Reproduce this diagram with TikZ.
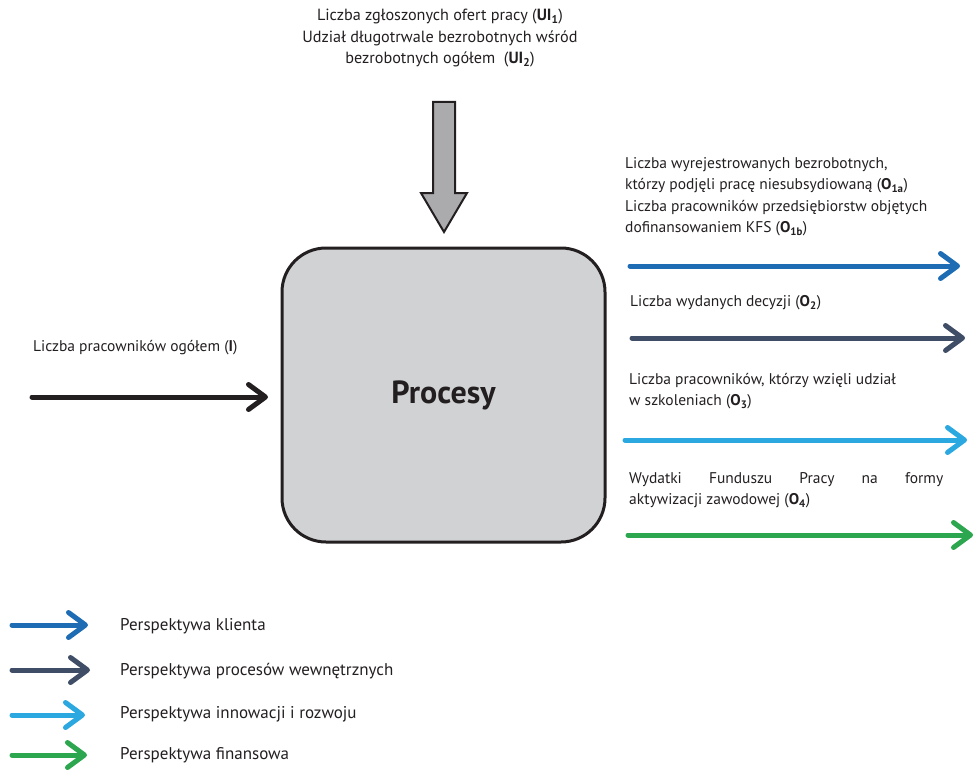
\documentclass[tikz,border=0pt]{standalone}
\usepackage{fontspec}
\setmainfont{PT Sans}
\usetikzlibrary{arrows.meta}
\definecolor{inkdark}{HTML}{231F20}
\definecolor{boxgray}{HTML}{D1D2D4}
\definecolor{arrowgray}{HTML}{ABABAE}
\definecolor{clientblue}{HTML}{1E6DB4}
\definecolor{processslate}{HTML}{3F4D66}
\definecolor{growthblue}{HTML}{2AA8DF}
\definecolor{financegreen}{HTML}{2DA74F}
\newcommand{\bsub}[1]{\textsubscript{\textbf{#1}}}
\begin{document}
\begin{tikzpicture}[x=1pt,y=-1pt,
  lbl/.style={font=\fontsize{15.5}{21.5}\selectfont, text=inkdark, inner sep=0pt, align=left},
  keylbl/.style={font=\fontsize{17}{21}\selectfont, text=inkdark, inner sep=0pt, anchor=west},
  flow/.style={line width=5pt, line cap=round, -{Straight Barb[length=17pt,width=25pt,round]}},
]
\useasboundingbox (0,0) rectangle (976,770);

% central process box
\node[draw=inkdark, line width=3pt, fill=boxgray, rounded corners=44pt,
      minimum width=323pt, minimum height=294pt,
      font=\fontsize{32}{36}\selectfont\bfseries, text=inkdark] (proc) at (443.5,395) {Procesy};

% external influence: block arrow from above
\node[lbl, font=\fontsize{16.2}{21.5}\selectfont, align=center, anchor=center] (ulbl) at (440,38.5)
  {Liczba zgłoszonych ofert pracy (\textbf{UI}\bsub{1})\\
   Udział długotrwale bezrobotnych wśród\\
   bezrobotnych ogółem~ (\textbf{UI}\bsub{2})};
\draw[draw=inkdark, line width=2pt, fill=arrowgray, line join=miter]
  (433,102) -- (455,102) -- (455,193) -- (467,193) -- (444,232) -- (421,193) -- (433,193) -- cycle;

% input
\node[lbl, anchor=west] (ilbl) at (33,348) {Liczba pracowników ogółem (\textbf{I})};
\coordinate (inS) at (32,397);
\coordinate (inE) at (268,397);
\draw[flow, draw=inkdark] (inS) -- (inE);

% outputs
\node[lbl, anchor=west] (o1lbl) at (625,196.5)
  {Liczba wyrejestrowanych bezrobotnych,\\
   którzy podjęli pracę niesubsydiowaną (\textbf{O}\bsub{1a})\\
   Liczba pracowników przedsiębiorstw objętych\\
   dofinansowaniem KFS (\textbf{O}\bsub{1b})};
\coordinate (o1S) at (630,266);
\coordinate (o1E) at (960,266);
\draw[flow, draw=clientblue] (o1S) -- (o1E);

\node[lbl, anchor=west] (o2lbl) at (630,303) {Liczba wydanych decyzji (\textbf{O}\bsub{2})};
\coordinate (o2S) at (632,338);
\coordinate (o2E) at (965,338);
\draw[flow, draw=processslate] (o2S) -- (o2E);

\node[lbl, anchor=west] (o3lbl) at (629,391)
  {Liczba pracowników, którzy wzięli udział\\
   w szkoleniach (\textbf{O}\bsub{3})};
\coordinate (o3S) at (625,440);
\coordinate (o3E) at (967,440);
\draw[flow, draw=growthblue] (o3S) -- (o3E);

\node[lbl, anchor=west] (o4lbl) at (629,490)
  {\makebox[314pt][l]{Wydatki\hfill Funduszu\hfill Pracy\hfill na\hfill formy}\\
   aktywizacji zawodowej (\textbf{O}\bsub{4})};
\coordinate (o4S) at (628,535);
\coordinate (o4E) at (973,535);
\draw[flow, draw=financegreen] (o4S) -- (o4E);

% legend
\coordinate (k1S) at (12,625); \coordinate (k1E) at (88,625);
\coordinate (k2S) at (12,670); \coordinate (k2E) at (90,670);
\coordinate (k3S) at (12,715); \coordinate (k3E) at (85,715);
\coordinate (k4S) at (12,755); \coordinate (k4E) at (87,755);
\draw[flow, draw=clientblue] (k1S) -- (k1E);
\draw[flow, draw=processslate] (k2S) -- (k2E);
\draw[flow, draw=growthblue] (k3S) -- (k3E);
\draw[flow, draw=financegreen] (k4S) -- (k4E);
\node[keylbl] (k1) at (120,626) {Perspektywa klienta};
\node[keylbl] (k2) at (120,671) {Perspektywa procesów wewnętrznych};
\node[keylbl] (k3) at (120,714) {Perspektywa innowacji i rozwoju};
\node[keylbl] (k4) at (120,755) {Perspektywa finansowa};
\end{tikzpicture}
\end{document}
